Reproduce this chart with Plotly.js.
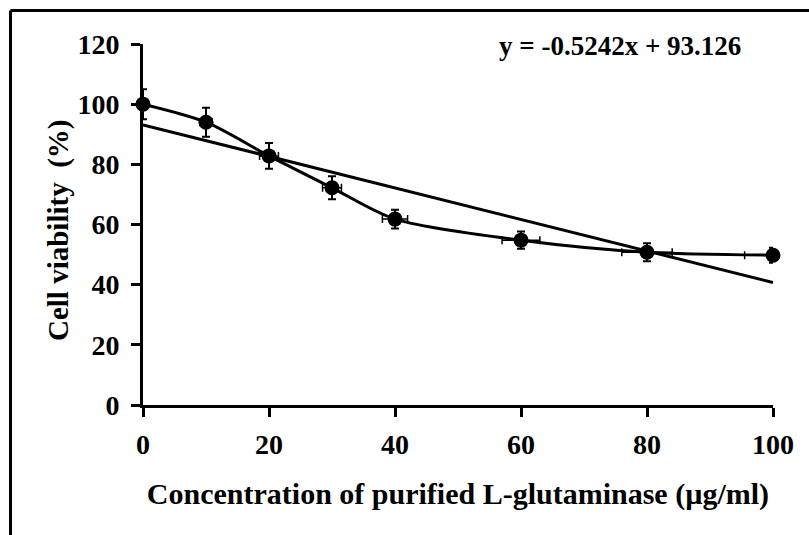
<!DOCTYPE html>
<html>
<head>
<meta charset="utf-8">
<script src="https://cdn.plot.ly/plotly-3.0.1.min.js"></script>
<style>
html,body{margin:0;padding:0;background:#fff;}
#chart{width:809px;height:535px;}
</style>
</head>
<body>
<div id="chart"></div>
<script>
// Data
const concentration = [0, 10, 20, 30, 40, 60, 80, 100];
const viability = [100, 94, 82.8, 72.2, 61.8, 54.8, 50.8, 49.8];
const viabilityErr = [5, 4.8, 4.3, 3.8, 3.1, 2.9, 3, 2.5];
const concentrationErr = [0.5, 1, 1.5, 1.5, 2, 3, 4, 4.5];
const trendX = [0, 100];
const trendY = [93.126, 40.706];
const equationText = 'y = -0.5242x + 93.126';
const xTitle = 'Concentration of purified L-glutaminase (µg/ml)';
const yTitle = 'Cell viability  (%)';
const xTicks = [0, 20, 40, 60, 80, 100];
const yTicks = [0, 20, 40, 60, 80, 100, 120];

const font = 'Liberation Serif, Times New Roman, serif';

const traces = [
  {
    x: trendX, y: trendY, mode: 'lines', type: 'scatter',
    line: {color: '#000', width: 3}, hoverinfo: 'skip', showlegend: false,
    cliponaxis: false
  },
  {
    x: concentration, y: viability, mode: 'lines+markers', type: 'scatter',
    line: {color: '#000', width: 3, shape: 'spline', smoothing: 0.8},
    marker: {color: '#000', size: 15, symbol: 'circle'},
    error_y: {type: 'data', array: viabilityErr, visible: true, color: '#000', thickness: 2, width: 4},
    error_x: {type: 'data', array: concentrationErr, visible: true, color: '#000', thickness: 1.5, width: 4},
    showlegend: false, cliponaxis: false
  }
];

const pl = 143, pr = 773, pt = 44, pb = 405;
const W = pr - pl, H = pb - pt;
const px = v => (v - pl) / W;
const py = v => (pb - v) / H;

const layout = {
  width: 809, height: 535,
  margin: {l: pl, r: 809 - pr, t: pt, b: 535 - pb},
  paper_bgcolor: '#fff', plot_bgcolor: '#fff',
  font: {family: font, color: '#000'},
  showlegend: false,
  xaxis: {
    range: [0, 100], tickvals: xTicks, ticktext: xTicks.map(String),
    showgrid: false, zeroline: false,
    showline: true, linecolor: '#000', linewidth: 3,
    ticks: 'outside', ticklen: 9, tickwidth: 3, tickcolor: '#000',
    ticklabelstandoff: 3,
    tickfont: {family: font, size: 28, color: '#000', weight: 'bold'},
    title: {text: '<b>' + xTitle + '</b>', font: {family: font, size: 30, color: '#000'}, standoff: 25}
  },
  yaxis: {
    range: [0, 120], tickvals: yTicks, ticktext: yTicks.map(String),
    showgrid: false, zeroline: false,
    showline: true, linecolor: '#000', linewidth: 3,
    ticks: 'outside', ticklen: 9, tickwidth: 3, tickcolor: '#000',
    ticklabelstandoff: 6,
    tickfont: {family: font, size: 28, color: '#000', weight: 'bold'}
  },
  annotations: [{
    x: 75.7, y: 119.3, xref: 'x', yref: 'y', text: '<b>' + equationText + '</b>',
    showarrow: false, font: {family: font, size: 27, color: '#000'}
  }, {
    x: px(58), y: py(230), xref: 'paper', yref: 'paper', text: '<b>' + yTitle + '</b>',
    textangle: -90, showarrow: false, xanchor: 'center', yanchor: 'middle',
    font: {family: font, size: 29, color: '#000'}
  }],
  shapes: [
    {type: 'line', xref: 'paper', yref: 'paper', x0: px(10.5), x1: px(10.5), y0: py(10.5), y1: py(560), line: {color: '#000', width: 3}},
    {type: 'line', xref: 'paper', yref: 'paper', x0: px(10.5), x1: px(830), y0: py(10.5), y1: py(10.5), line: {color: '#000', width: 3}}
  ]
};

Plotly.newPlot('chart', traces, layout, {displayModeBar: false, staticPlot: true});
</script>
</body>
</html>
